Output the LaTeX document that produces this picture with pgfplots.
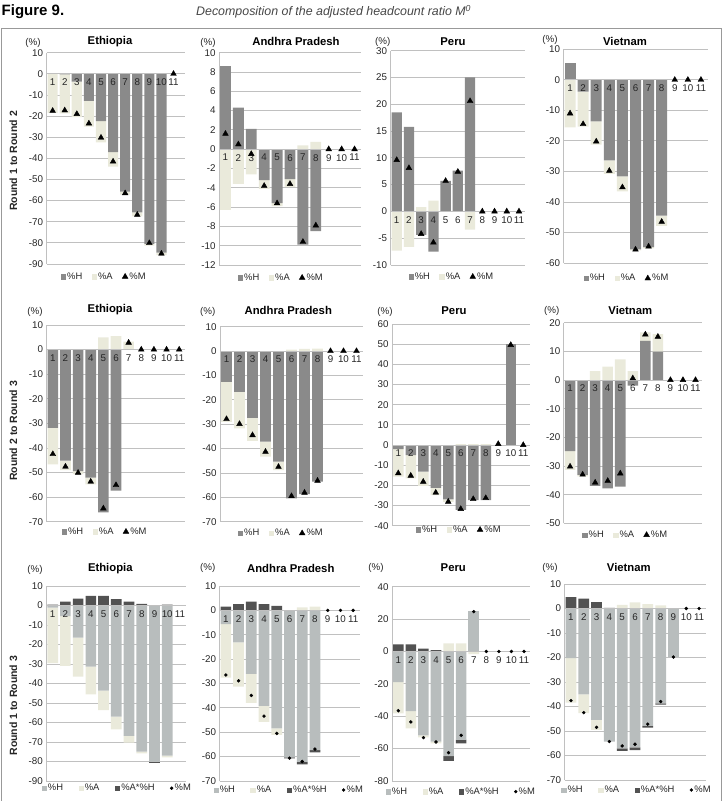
\documentclass[border=0pt]{standalone}
\usepackage{fontspec}
\setmainfont{Liberation Sans}
\usepackage{pgfplots}
\usepackage{pgfplotstable}
\pgfplotsset{compat=1.18}

\definecolor{hdark}{RGB}{138,138,138}
\definecolor{hlight}{RGB}{184,189,189}
\definecolor{acream}{RGB}{234,234,219}
\definecolor{ahdark}{RGB}{82,82,82}
\definecolor{gridgray}{RGB}{192,192,192}
\definecolor{ticktext}{RGB}{38,38,38}
\definecolor{headgray}{RGB}{70,70,70}

\newcommand\tickfont{\fontsize{9.8}{11}\selectfont}
\newcommand\legfont{\fontsize{9.4}{10.5}\selectfont}
\newcommand\titlefont{\bfseries\fontsize{11.3}{13}\selectfont}

% ---------------- data: Round 1 to Round 2 ----------------
\pgfplotstableread{
x H A M
1 0.6 -18.5 -17.5
2 -0.3 -18.4 -17.3
3 -3.7 -16.8 -19.0
4 -12.8 -12.2 -23.5
5 -22.4 -10.0 -30.2
6 -37.1 -6.8 -41.5
7 -55.8 -1.4 -56.5
8 -65.6 -1.9 -66.7
9 -80.5 -0.8 -80.1
10 -84.6 -1.2 -85.1
11 0 0 0
}\tEthA
\pgfplotstableread{
x H A M
1 8.6 -6.3 1.6
2 4.3 -3.6 0.5
3 2.1 -2.6 -0.5
4 -3.2 -0.9 -3.8
5 -5.6 -0.3 -5.6
6 -3.1 -0.8 -3.6
7 -9.9 0.4 -9.6
8 -8.5 0.75 -7.9
9 0 0 0
10 0 0 0
11 0 0 0
}\tAPA
\pgfplotstableread{
x H A M
1 18.5 -7.3 9.6
2 15.8 -6.6 8.1
3 -4.4 0.8 -4.2
4 -7.5 2.0 -5.8
5 5.7 0 5.7
6 7.6 0 7.4
7 25.0 -3.4 20.6
8 0 0 0
9 0 0 0
10 0 0 0
11 0 0 0
}\tPeruA
\pgfplotstableread{
x H A M
1 5.6 -15.6 -11.0
2 -3.9 -11.4 -14.5
3 -13.6 -7.6 -20.2
4 -26.4 -4.4 -29.8
5 -31.6 -4.9 -35.2
6 -55.5 -0.4 -55.6
7 -54.8 -0.4 -54.6
8 -44.5 -3.3 -46.5
9 0 0 0
10 0 0 0
11 0 0 0
}\tVietA

% ---------------- data: Round 2 to Round 3 ----------------
\pgfplotstableread{
x H A M
1 -31.8 -14.9 -42.5
2 -45.2 -3.8 -47.6
3 -49.4 -1.3 -50.1
4 -52.1 -2.7 -53.7
5 -66.2 5.0 -64.6
6 -57.4 5.5 -55.1
7 0 3.2 2.8
8 0 0 0
9 0 0 0
10 0 0 0
11 0 0 0
}\tEthB
\pgfplotstableread{
x H A M
1 -12.6 -16.4 -27.9
2 -16.7 -15.0 -29.9
3 -27.4 -9.4 -34.5
4 -37.2 -6.1 -41.3
5 -45.4 -3.4 -47.5
6 -60.4 0.6 -59.5
7 -58.7 0.9 -58.1
8 -53.6 1.0 -53.2
9 0 0 0
10 0 0 0
11 0 0 0
}\tAPB
\pgfplotstableread{
x H A M
1 -2.0 -13.7 -14.0
2 -5.0 -11.5 -15.2
3 -13.2 -7.0 -18.2
4 -21.2 -3.6 -23.6
5 -27.0 -1.2 -28.1
6 -32.2 0.5 -31.7
7 -27.3 0.5 -26.8
8 -27.3 0.5 -26.3
9 0 0 0.5
10 50.1 0 49.6
11 0 0 0
}\tPeruB
\pgfplotstableread{
x H A M
1 -24.8 -6.6 -30.2
2 -33.1 -0.5 -33.0
3 -36.9 3.1 -35.8
4 -37.8 4.7 -35.2
5 -37.2 7.2 -32.6
6 -2.0 3.1 0.6
7 13.7 2.9 15.9
8 9.9 6.1 15.1
9 0 0 0
10 0 0 0
11 0 0 0
}\tVietB

% ---------------- data: Round 1 to Round 3 ----------------
\pgfplotstableread{
x H A AH M
1 -1.1 -28.5 0.5 nan
2 -5.4 -25.6 2.0 nan
3 -16.5 -20.0 3.5 nan
4 -31.4 -14.2 4.9 nan
5 -43.7 -9.9 4.9 nan
6 -57.0 -6.5 3.3 nan
7 -66.9 -3.4 2.0 nan
8 -75.0 -0.8 0.8 nan
9 -80.1 0 -0.3 nan
10 -77.0 -0.9 0.5 nan
11 0 0 0 nan
}\tEthC
\pgfplotstableread{
x H A AH M
1 -5.6 -22.0 1.5 -26.5
2 -13.1 -18.2 2.6 -28.9
3 -26.1 -11.8 3.6 -34.9
4 -39.2 -6.5 2.6 -43.4
5 -48.4 -2.7 1.8 -50.5
6 -60.3 0 -0.4 -60.6
7 -62.2 1.2 -1.0 -62.0
8 -57.3 1.5 -1.0 -56.9
9 0 0 0 0
10 0 0 0 0
11 0 0 0 0
}\tAPC
\pgfplotstableread{
x H A AH M
1 -18.9 -19.3 4.4 -36.6
2 -36.8 -10.7 4.4 -43.5
3 -51.8 -1.2 1.7 -53.2
4 -55.7 -1.0 0.9 -55.9
5 -64.6 5.0 -2.9 -62.5
6 -54.5 5.0 -2.3 -51.8
7 25.2 -1.6 0 24.6
8 0 0 0 0
9 0 0 0 0
10 0 0 0 0
11 0 0 0 0
}\tPeruC
\pgfplotstableread{
x H A AH M
1 -20.3 -18.1 4.6 -37.6
2 -35.0 -7.7 4.0 -42.5
3 -45.5 -4.0 2.6 -48.5
4 -54.3 0 0.3 -54.3
5 -57.1 1.5 -1.0 -56.1
6 -56.7 2.5 -1.1 -55.4
7 -47.9 1.8 -0.7 -47.2
8 -38.7 1.3 -0.5 -38.0
9 -19.8 0 0 -19.8
10 0 0 0 0
11 0 0 0 0
}\tVietC

\pgfplotsset{
  stackbase/.style={scale only axis, xmin=0.5, xmax=11.5, clip=false,
    ybar stacked, bar width=0.84},
  frameaxis/.style={stackbase, axis x line=none, axis y line*=left,
    y axis line style={draw=gridgray, line width=0.8pt},
    ymajorgrids, major grid style={draw=gridgray, line width=0.8pt},
    ytick style={draw=none}, xtick=\empty,
    yticklabel style={font=\tickfont, text=ticktext},
    /pgf/number format/assume math mode=true},
  posaxis/.style={stackbase, hide axis},
  topaxis/.style={scale only axis, xmin=0.5, xmax=11.5, clip=false,
    axis x line*=middle, axis y line=none,
    x axis line style={draw=gridgray, line width=0.8pt},
    xtick={1,...,11}, xtick style={draw=none},
    xticklabel style={font=\tickfont, text=ticktext, yshift=-1.5pt},
    /pgf/number format/assume math mode=true,
    legend columns=-1,
    legend style={draw=none, fill=none, anchor=center, font=\legfont,
      text=ticktext, nodes={inner sep=1.5pt},
      /tikz/every even column/.append style={column sep=8pt}}},
  lg/.style 2 args={legend style={at={(#1,#2)}}},
  wide legend/.style={legend style={/tikz/every even column/.append style={column sep=14pt}}},
  hbar/.style={fill=hdark, draw=none},
  hlbar/.style={fill=hlight, draw=none},
  abar/.style={fill=acream, draw=none},
  ahbar/.style={fill=ahdark, draw=none},
  sq/.style={legend image code/.code={\fill[#1] (0pt,-2.2pt) rectangle (4.4pt,2.2pt);}},
  tri/.style={only marks, mark=triangle*, mark size=3.3pt, color=black,
    legend image code/.code={\draw[##1] plot coordinates {(3pt,0pt)};}},
  dot/.style={only marks, mark=*, mark size=1.5pt, color=black,
    legend image code/.code={\draw[##1] plot coordinates {(2pt,0pt)};}},
}

% one panel of the first two rows: %H and %A stacked, %M as triangles
\newcommand{\panelHA}[3]{%
  \begin{axis}[frameaxis,#1]
    \addplot[hbar] table[x=x,y expr={min(\thisrow{H},0)}]{#3};
    \addplot[abar] table[x=x,y expr={min(\thisrow{A},0)}]{#3};
  \end{axis}
  \begin{axis}[posaxis,#1]
    \addplot[hbar] table[x=x,y expr={max(\thisrow{H},0)}]{#3};
    \addplot[abar] table[x=x,y expr={max(\thisrow{A},0)}]{#3};
  \end{axis}
  \begin{axis}[topaxis,#1,ytick=\empty,#2]
    \addlegendimage{sq=hdark}
    \addlegendimage{sq=acream}
    \addlegendimage{tri}
    \addplot[tri, forget plot] table[x=x,y=M]{#3};
    \legend{\%H,\%A,\%M}
  \end{axis}}

% one panel of the last row: %H, %A and %A*%H stacked, %M as dots
\newcommand{\panelHAI}[3]{%
  \begin{axis}[frameaxis,#1]
    \addplot[hlbar] table[x=x,y expr={min(\thisrow{H},0)}]{#3};
    \addplot[abar] table[x=x,y expr={min(\thisrow{A},0)}]{#3};
    \addplot[ahbar] table[x=x,y expr={min(\thisrow{AH},0)}]{#3};
  \end{axis}
  \begin{axis}[posaxis,#1]
    \addplot[hlbar] table[x=x,y expr={max(\thisrow{H},0)}]{#3};
    \addplot[abar] table[x=x,y expr={max(\thisrow{A},0)}]{#3};
    \addplot[ahbar] table[x=x,y expr={max(\thisrow{AH},0)}]{#3};
  \end{axis}
  \begin{axis}[topaxis,#1,ytick=\empty,wide legend,#2]
    \addlegendimage{sq=hlight}
    \addlegendimage{sq=acream}
    \addlegendimage{sq=ahdark}
    \addlegendimage{dot}
    \addplot[dot, forget plot] table[x=x,y=M]{#3};
    \legend{\%H,\%A,\%A*\%H,\%M}
  \end{axis}}

\newcommand\ttl[3]{\node[font=\titlefont, text=black] at (#1pt,#2pt) {#3};}
\newcommand\pct[2]{\node[font=\tickfont, text=ticktext] at (#1pt,#2pt) {(\%)};}
\newcommand\rowlabel[2]{\node[rotate=90, font=\bfseries\fontsize{10.5}{12}\selectfont, text=ticktext] at (13.3pt,#1pt) {#2};}

\begin{document}
\begin{tikzpicture}
\path[use as bounding box] (0pt,0pt) rectangle (726pt,801pt);

% heading and frame
\node[anchor=base west, inner sep=0pt, font=\bfseries\fontsize{15}{17}\selectfont] at (1.5pt,785pt) {Figure 9.};
\node[anchor=base west, inner sep=0pt, font=\itshape\fontsize{12.4}{14}\selectfont, text=headgray] at (196pt,785pt) {Decomposition of the adjusted headcount ratio M\textsuperscript{0}};
\draw[gray!80, line width=0.7pt] (1pt,0pt) -- (1pt,773pt) -- (721.5pt,773pt) -- (721.5pt,0pt);

% ---------- Round 1 to Round 2 ----------
\panelHA{at={(46.6pt,537pt)}, width=138.4pt, height=211.3pt, xmax=11.95,
  ymin=-90, ymax=10, ytick={-90,-80,...,10}}{lg={0.415}{-0.06}}{\tEthA}
\panelHA{at={(219pt,536pt)}, width=142pt, height=212.3pt,
  ymin=-12, ymax=10, ytick={-12,-10,...,10}}{lg={0.437}{-0.06}}{\tAPA}
\panelHA{at={(390.6pt,536pt)}, width=134.5pt, height=214.3pt,
  ymin=-10, ymax=30, ytick={-10,-5,...,30}}{lg={0.454}{-0.055}}{\tPeruA}
\panelHA{at={(563.5pt,538pt)}, width=144pt, height=213.7pt,
  ymin=-60, ymax=10, ytick={-60,-50,...,10}}{lg={0.439}{-0.072}}{\tVietA}

% ---------- Round 2 to Round 3 ----------
\panelHA{at={(46.5pt,279.3pt)}, width=139pt, height=196.7pt,
  ymin=-70, ymax=10, ytick={-70,-60,...,10}}{lg={0.42}{-0.051}}{\tEthB}
\panelHA{at={(220pt,279.3pt)}, width=143pt, height=195pt,
  ymin=-70, ymax=10, ytick={-70,-60,...,10}}{lg={0.427}{-0.059}}{\tAPB}
\panelHA{at={(392pt,275.3pt)}, width=137.5pt, height=201.7pt,
  ymin=-40, ymax=60, ytick={-40,-30,...,60}}{lg={0.487}{-0.02}}{\tPeruB}
\panelHA{at={(563.8pt,277.7pt)}, width=138pt, height=200.6pt,
  ymin=-50, ymax=20, ytick={-50,-40,...,20}}{lg={0.447}{-0.058}}{\tVietB}

% ---------- Round 1 to Round 3 ----------
\panelHAI{at={(46.3pt,20pt)}, width=140pt, height=195pt,
  ymin=-90, ymax=10, ytick={-90,-80,...,10}}{lg={0.505}{-0.037}}{\tEthC}
\panelHAI{at={(219.5pt,20pt)}, width=140pt, height=195pt,
  ymin=-70, ymax=10, ytick={-70,-60,...,10}}{lg={0.496}{-0.046}}{\tAPC}
\panelHAI{at={(392pt,20pt)}, width=138.3pt, height=194.3pt,
  ymin=-80, ymax=40, ytick={-80,-60,...,40}}{lg={0.499}{-0.055}}{\tPeruC}
\panelHAI{at={(564.5pt,21pt)}, width=141pt, height=196pt,
  ymin=-70, ymax=10, ytick={-70,-60,...,10}}{lg={0.512}{-0.051}}{\tVietC}

% panel titles and unit labels
\ttl{110}{759.5}{Ethiopia}
\ttl{296}{760}{Andhra Pradesh}
\ttl{453}{759}{Peru}
\ttl{625}{760}{Vietnam}
\ttl{110}{491}{Ethiopia}
\ttl{288.3}{491}{Andhra Pradesh}
\ttl{454}{490}{Peru}
\ttl{630.3}{491}{Vietnam}
\ttl{110.3}{232.7}{Ethiopia}
\ttl{290.8}{233}{Andhra Pradesh}
\ttl{453.3}{233}{Peru}
\ttl{628.8}{233.7}{Vietnam}

\pct{33}{758}\pct{208}{757.7}\pct{382.7}{759.3}\pct{550}{761}
\pct{35}{488.7}\pct{207.7}{489.3}\pct{385}{489.3}\pct{551.7}{490}
\pct{35}{231}\pct{207.7}{232.7}\pct{376}{232.7}\pct{550}{232.7}

\rowlabel{640}{Round 1 to Round 2}
\rowlabel{370}{Round 2 to Round 3}
\rowlabel{95.3}{Round 1 to Round 3}
\end{tikzpicture}
\end{document}
